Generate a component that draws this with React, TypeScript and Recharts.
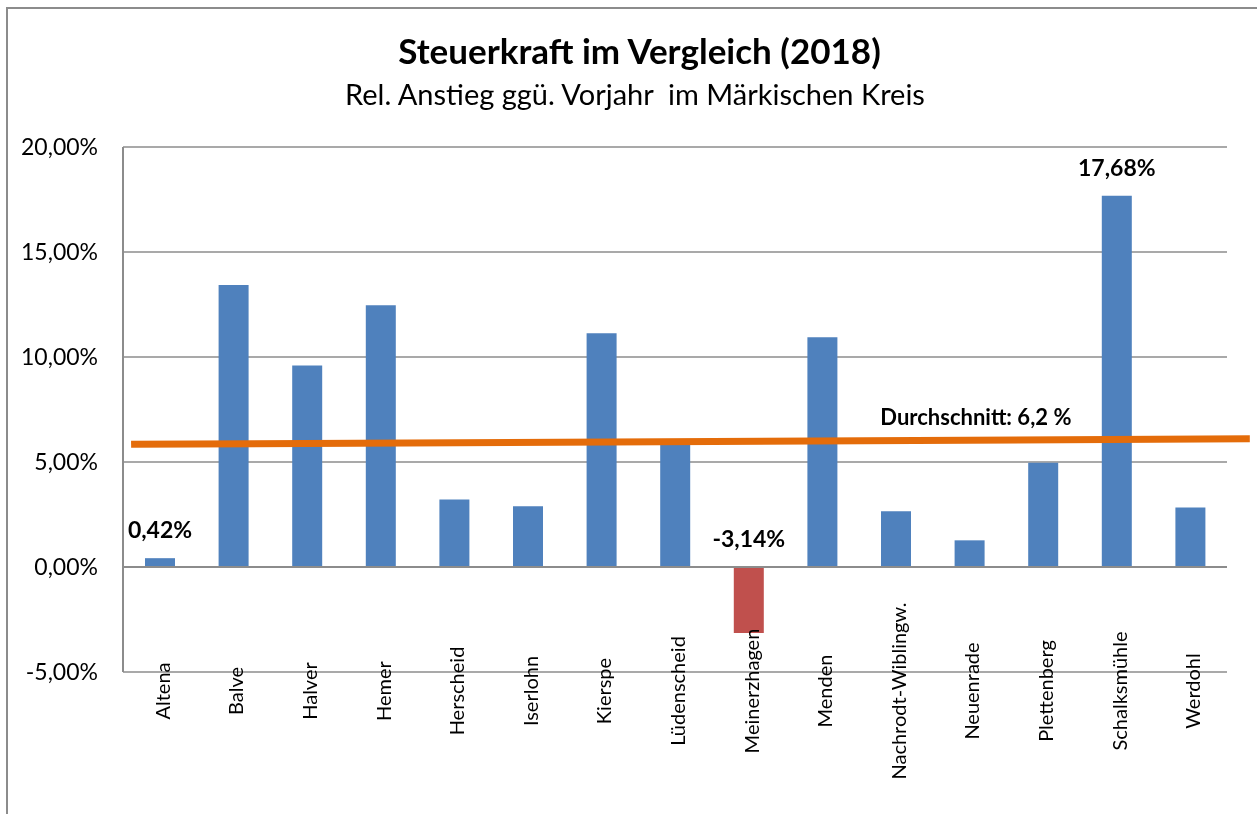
import {
  Bar,
  BarChart,
  CartesianGrid,
  Cell,
  LabelList,
  ReferenceLine,
  XAxis,
  YAxis,
} from "recharts";

// Rel. Anstieg der Steuerkraft 2018 ggü. Vorjahr, in %
const towns = [
  "Altena",
  "Balve",
  "Halver",
  "Hemer",
  "Herscheid",
  "Iserlohn",
  "Kierspe",
  "Lüdenscheid",
  "Meinerzhagen",
  "Menden",
  "Nachrodt-Wiblingw.",
  "Neuenrade",
  "Plettenberg",
  "Schalksmühle",
  "Werdohl",
];
const growth = [
  0.42, 13.43, 9.59, 12.46, 3.22, 2.89, 11.13, 5.85, -3.14, 10.94, 2.65, 1.27,
  4.97, 17.68, 2.83,
];
// only these bars carry a value label in the original
const labeledTowns = ["Altena", "Meinerzhagen", "Schalksmühle"];
const yTicks = [-5, 0, 5, 10, 15, 20];

// hand-drawn average line (slightly tilted), values at the first and last town
const avgValue = [5.85, 6.09];
const avgLabel = "Durchschnitt: 6,2 %";

const title = "Steuerkraft im Vergleich (2018)";
const subtitle = "Rel. Anstieg ggü. Vorjahr  im Märkischen Kreis";

const FONT = "Lato, 'Open Sans', sans-serif";
const BLUE = "#4F81BD";
const RED = "#C0504D";
const ORANGE = "#E46C0A";
const GRID = "#8C8C8C";

const data = towns.map((town, i) => ({ town, growth: growth[i] }));

const pct = (v: number) => v.toFixed(2).replace(".", ",") + "%";

function TownTick({ x, y, payload }: any) {
  const cy = y + 19;
  return (
    <text
      x={x}
      y={cy}
      transform={`rotate(-90 ${x} ${cy})`}
      textAnchor="middle"
      dominantBaseline="central"
      dy={2}
      fontSize={20}
      fontFamily={FONT}
      fill="#000"
    >
      {payload.value}
    </text>
  );
}

function ValueLabel({ x, y, width, height, value, index }: any) {
  if (!labeledTowns.includes(towns[index])) return null;
  const top = Math.min(y, y + height);
  return (
    <text
      x={x + width / 2}
      y={top - 20}
      textAnchor="middle"
      fontSize={23}
      fontWeight="bold"
      fontFamily={FONT}
      fill="#000"
    >
      {pct(value)}
    </text>
  );
}

// the drawn line runs a bit past the first and last bar
function AvgLine({ x1, y1, x2, y2, stroke, strokeWidth }: any) {
  const slot = (x2 - x1) / (towns.length - 1);
  const slope = (y2 - y1) / (x2 - x1);
  const left = slot * 0.39;
  const right = slot * 0.81;
  return (
    <line
      x1={x1 - left}
      y1={y1 - left * slope}
      x2={x2 + right}
      y2={y2 + right * slope}
      stroke={stroke}
      strokeWidth={strokeWidth}
    />
  );
}

function AvgLabel({ viewBox }: any) {
  return (
    <text
      x={viewBox.x + viewBox.width * 0.792}
      y={viewBox.y - 14}
      textAnchor="middle"
      fontSize={22}
      fontWeight="bold"
      fontFamily={FONT}
      fill="#000"
    >
      {avgLabel}
    </text>
  );
}

export default function App() {
  return (
    <>
      {/* chart area frame, right and bottom edges lie outside the picture */}
      <div
        style={{
          position: "fixed",
          left: 6,
          top: 7,
          width: 1300,
          height: 900,
          border: `2px solid ${GRID}`,
        }}
      />
      <div style={{ position: "fixed", left: 0, top: 0 }}>
        <BarChart
          width={1257}
          height={814}
          data={data}
          margin={{ top: 147, right: 30, bottom: 0, left: 0 }}
        >
          <CartesianGrid vertical={false} stroke={GRID} strokeWidth={1.5} />
          <XAxis
            dataKey="town"
            interval={0}
            height={142}
            axisLine={false}
            tickLine={false}
            tickSize={0}
            tickMargin={0}
            tick={<TownTick />}
          />
          <YAxis
            domain={[-5, 20]}
            ticks={yTicks}
            width={123}
            tickFormatter={pct}
            axisLine={{ stroke: GRID, strokeWidth: 2 }}
            tickLine={false}
            tickSize={0}
            tickMargin={25}
            tick={{ fontSize: 23, fontFamily: FONT, fill: "#000" }}
          />
          <ReferenceLine y={0} stroke={GRID} strokeWidth={2} />
          <Bar dataKey="growth" barSize={30} isAnimationActive={false}>
            {data.map((d) => (
              <Cell key={d.town} fill={d.growth < 0 ? RED : BLUE} />
            ))}
            <LabelList dataKey="growth" content={<ValueLabel />} />
          </Bar>
          <ReferenceLine
            ifOverflow="visible"
            segment={[
              { x: towns[0], y: avgValue[0] },
              { x: towns[towns.length - 1], y: avgValue[1] },
            ]}
            stroke={ORANGE}
            strokeWidth={7}
            shape={(p: any) => <AvgLine {...p} />}
            label={<AvgLabel />}
          />
        </BarChart>
      </div>
      <svg
        width={1257}
        height={814}
        style={{ position: "fixed", left: 0, top: 0, pointerEvents: "none" }}
      >
        <text
          x={639.5}
          y={64}
          textAnchor="middle"
          fontSize={35}
          fontWeight="bold"
          fontFamily={FONT}
          fill="#000"
        >
          {title}
        </text>
        <text
          x={635}
          y={105}
          textAnchor="middle"
          fontSize={29}
          fontFamily={FONT}
          fill="#000"
          style={{ whiteSpace: "pre" }}
        >
          {subtitle}
        </text>
      </svg>
    </>
  );
}
